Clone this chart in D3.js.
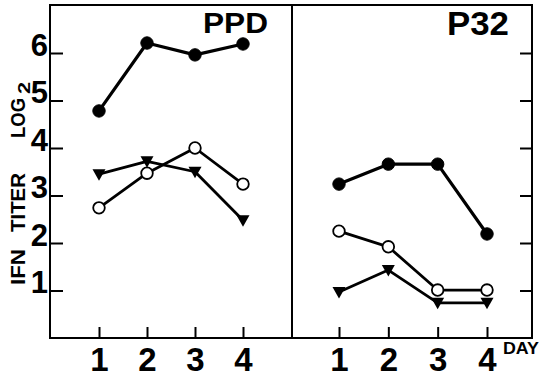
<!DOCTYPE html>
<html>
<head>
<meta charset="utf-8">
<script src="https://cdn.jsdelivr.net/npm/d3@7"></script>
<style>
  body { margin: 0; background: #fff; }
  svg { display: block; font-family: "Liberation Sans", Arial, sans-serif; font-weight: bold; }
</style>
</head>
<body>
<svg id="chart" width="540" height="377"></svg>
<script>
// data (log2 IFN titer by day)
const days = [1, 2, 3, 4];
const yTicks = [1, 2, 3, 4, 5, 6];
const ppdFilled = [4.78, 6.21, 5.96, 6.19];
const ppdOpen = [2.74, 3.47, 4.0, 3.24];
const ppdTriangle = [3.45, 3.72, 3.5, 2.48];
const p32Filled = [3.24, 3.66, 3.66, 2.19];
const p32Open = [2.25, 1.92, 1.01, 1.01];
const p32Triangle = [0.97, 1.43, 0.74, 0.74];

const SVG = d3.select("#chart");
const LEFT = 50, MID = 292, RIGHT = 532, TOP = 5, BOTTOM = 338;

const Y = d3.scaleLinear().domain([0, 6]).range([BOTTOM, 53]);
const X_PPD = d3.scaleLinear().domain([1, 4]).range([99, 243]);
const X_P32 = d3.scaleLinear().domain([1, 4]).range([339, 487]);

// FRAME
SVG.append("rect")
  .attr("x", LEFT).attr("y", TOP)
  .attr("width", RIGHT - LEFT).attr("height", BOTTOM - TOP)
  .attr("fill", "none").attr("stroke", "#000").attr("stroke-width", 2);
SVG.append("line")
  .attr("x1", MID).attr("x2", MID).attr("y1", TOP).attr("y2", BOTTOM)
  .attr("stroke", "#000").attr("stroke-width", 2);

// Y AXIS (left, labelled)
const Y_AXIS_G = SVG.append("g").attr("transform", `translate(${LEFT},0)`);
Y_AXIS_G.call(d3.axisLeft(Y).tickValues(yTicks).tickSize(-13).tickPadding(2).tickFormat(d3.format("d")));
Y_AXIS_G.select(".domain").remove();
Y_AXIS_G.selectAll("line").attr("stroke-width", 2);
Y_AXIS_G.selectAll("text")
  .attr("dy", 0).attr("y", 2)
  .style("font-size", "31px").style("font-family", "inherit").style("font-weight", "bold");

// Y AXIS (right, ticks only)
const Y_AXIS_R = SVG.append("g").attr("transform", `translate(${RIGHT},0)`);
Y_AXIS_R.call(d3.axisRight(Y).tickValues(yTicks).tickSize(-12).tickFormat(""));
Y_AXIS_R.select(".domain").remove();
Y_AXIS_R.selectAll("line").attr("stroke-width", 2);

// X AXES
[X_PPD, X_P32].forEach((sc) => {
  const g = SVG.append("g").attr("transform", `translate(0,${BOTTOM})`);
  g.call(d3.axisBottom(sc).tickValues(days).tickSize(-11).tickFormat(d3.format("d")));
  g.select(".domain").remove();
  g.selectAll("line").attr("stroke-width", 2);
  g.selectAll("text")
    .attr("dy", 0).attr("y", 33)
    .style("font-size", "33px").style("font-family", "inherit").style("font-weight", "bold");
});

SVG.append("text").attr("x", 503).attr("y", 354)
  .attr("textLength", 36).attr("lengthAdjust", "spacingAndGlyphs")
  .style("font-size", "16px").text("DAY");

// PANEL TITLES
SVG.append("text").attr("x", 203).attr("y", 33)
  .attr("textLength", 65).attr("lengthAdjust", "spacingAndGlyphs")
  .style("font-size", "29px").text("PPD");
SVG.append("text").attr("x", 447).attr("y", 35)
  .attr("textLength", 62).attr("lengthAdjust", "spacingAndGlyphs")
  .style("font-size", "34px").text("P32");

// Y AXIS TITLE (rotated)
function vText(txt, yStart, yEnd, size, xBase) {
  SVG.append("text")
    .attr("transform", `translate(${xBase},${yStart}) rotate(-90)`)
    .attr("textLength", yStart - yEnd).attr("lengthAdjust", "spacingAndGlyphs")
    .style("font-size", size + "px").text(txt);
}
vText("IFN", 285, 249, 21, 25);
vText("TITER", 232, 173, 21, 25);
vText("LOG", 138, 98, 21, 25);
vText("2", 94, 82, 17, 30);

// SERIES
const series = [
  { x: X_PPD, v: ppdTriangle, mark: "tri" },
  { x: X_PPD, v: ppdOpen, mark: "open" },
  { x: X_PPD, v: ppdFilled, mark: "filled" },
  { x: X_P32, v: p32Triangle, mark: "tri" },
  { x: X_P32, v: p32Open, mark: "open" },
  { x: X_P32, v: p32Filled, mark: "filled" },
];

series.forEach((s) => {
  const line = d3.line().x((d, i) => s.x(days[i])).y((d) => Y(d));
  SVG.append("path").datum(s.v)
    .attr("d", line)
    .attr("fill", "none").attr("stroke", "#000")
    .attr("stroke-width", s.mark === "filled" ? 3.2 : 2.8)
    .attr("stroke-linejoin", "round");
});

series.forEach((s) => {
  const g = SVG.append("g");
  s.v.forEach((d, i) => {
    const cx = s.x(days[i]), cy = Y(d);
    if (s.mark === "tri") {
      g.append("path")
        .attr("d", `M${cx - 6.5},${cy - 5} L${cx + 6.5},${cy - 5} L${cx},${cy + 6.5} Z`)
        .attr("fill", "#000");
    } else {
      g.append("circle")
        .attr("cx", cx).attr("cy", cy)
        .attr("r", s.mark === "open" ? 5.8 : 6.2)
        .attr("fill", s.mark === "open" ? "#fff" : "#000")
        .attr("stroke", "#000").attr("stroke-width", s.mark === "open" ? 1.8 : 1);
    }
  });
});
</script>
</body>
</html>
